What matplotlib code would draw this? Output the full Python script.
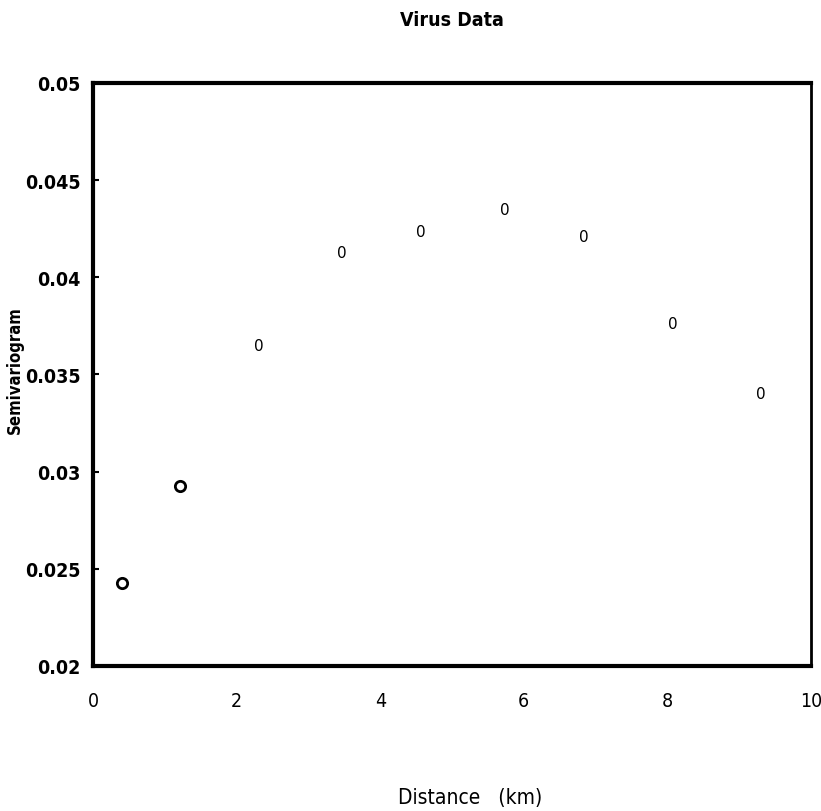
import matplotlib
matplotlib.use("Agg")
from matplotlib import pyplot as plt

# lag distance (km) and semivariogram values
dist_circ = [0.40, 1.21]
semi_circ = [0.02428, 0.02928]
dist_zero = [2.31, 3.47, 4.57, 5.74, 6.84, 8.08, 9.30]
semi_zero = [0.03649, 0.04128, 0.04236, 0.04349, 0.0421, 0.03762, 0.03403]

x_ticks = [0, 2, 4, 6, 8, 10]
y_ticks = [0.02, 0.025, 0.03, 0.035, 0.04, 0.045, 0.05]
y_labels = ["0.02", "0.025", "0.03", "0.035", "0.04", "0.045", "0.05"]

cond = dict(family="DejaVu Sans", fontstretch="condensed")

fig = plt.figure(figsize=(8.21, 8.12), dpi=100)
ax = fig.add_axes([0.1133, 0.1786, 0.8745, 0.718])

ax.scatter(dist_circ, semi_circ, s=55, facecolors="white", edgecolors="black",
           linewidths=2, zorder=3)
for xx, yy in zip(dist_zero, semi_zero):
    ax.text(xx, yy, "0", ha="center", va="center", fontsize=11,
            family="DejaVu Sans", color="black")

ax.set_xlim(0, 10)
ax.set_ylim(0.02, 0.05)
ax.set_xticks(x_ticks)
ax.set_xticklabels([str(t) for t in x_ticks], fontsize=14, **cond)
ax.set_yticks(y_ticks)
ax.set_yticklabels(y_labels, fontsize=14, fontweight="bold", **cond)
ax.tick_params(axis="y", direction="in", length=4, width=1.5, pad=9)
ax.tick_params(axis="x", length=0, pad=18)

for side in ["left", "bottom", "top"]:
    ax.spines[side].set_linewidth(3)
ax.spines["right"].set_linewidth(2)

ax.set_title("Virus Data", fontsize=14, fontweight="bold", pad=42, **cond)
ax.set_xlabel("Distance   (km)", fontsize=15, **cond)
ax.xaxis.set_label_coords(0.525, -0.208)
ax.set_ylabel("Semivariogram", fontsize=12, fontweight="bold", **cond)
ax.yaxis.set_label_coords(-0.097, 0.51)

fig.savefig("out.png", dpi=100)
